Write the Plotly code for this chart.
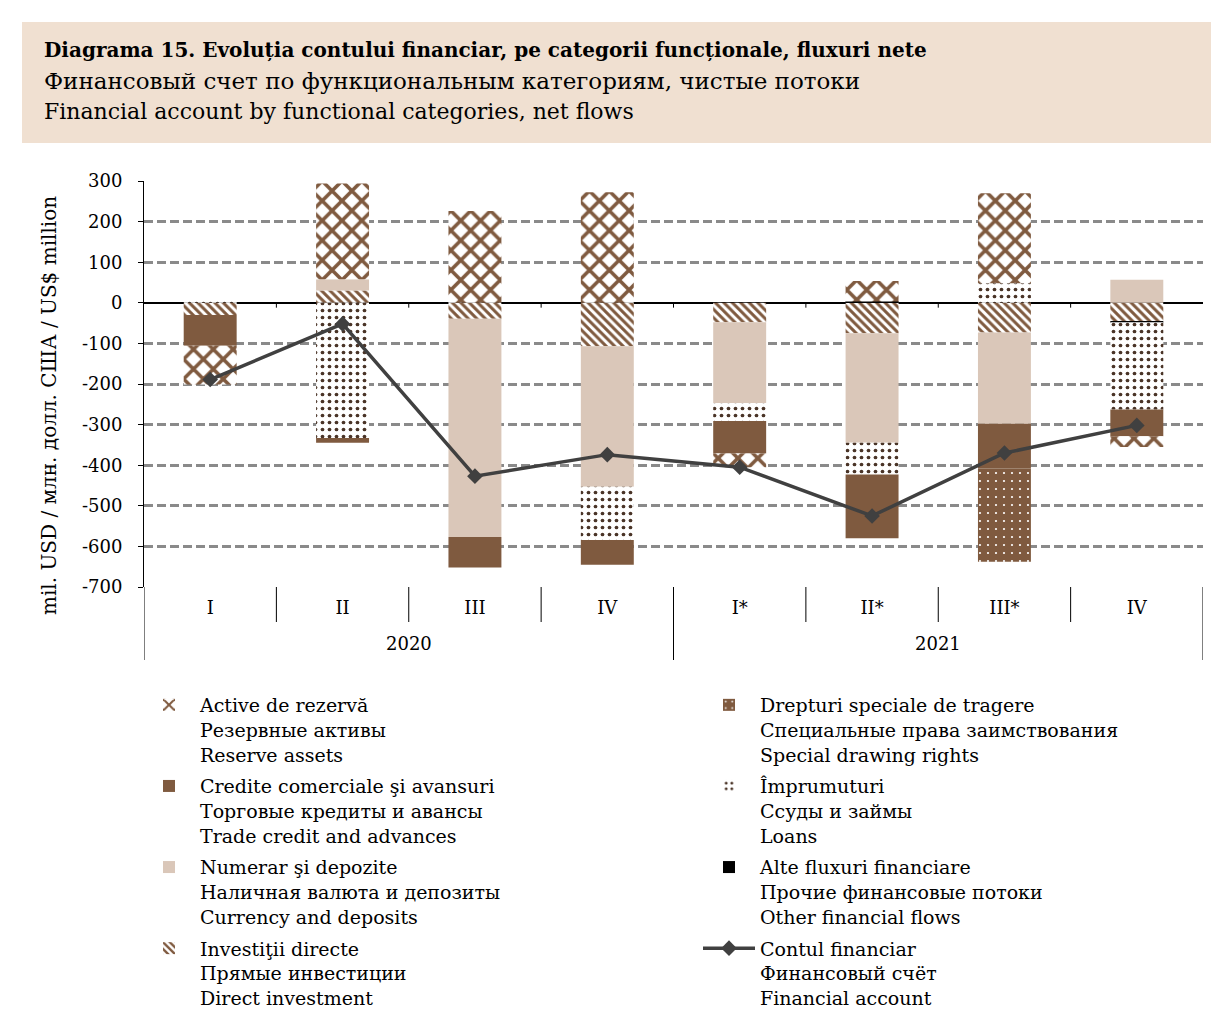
import plotly.graph_objects as go

# --- data (mil. USD) ---
years = ["2020", "2020", "2020", "2020", "2021", "2021", "2021", "2021"]
quarters = ["I", "II", "III", "IV", "I*", "II*", "III*", "IV"]

direct_investment = [-30, 30, -39, -107, -48, -75, -73, -46]
other_flows = [0, 0, 0, 0, 0, 3, 0, -2]
currency_deposits = [0, 28, -538, -346, -199, -270, -225, 57]
loans = [9, -333, 0, -131, -44, -78, 48, -215]
trade_credit = [-76, -12, -75, -61, -80, -157, -110, -66]
sdr = [0, 0, 0, 0, 0, 0, -230, 0]
reserve_assets = [-95, 236, 226, 272, -34, 51, 222, -26]
financial_account = [-189, -52, -427, -374, -405, -525, -370, -302]

y_ticks = [300, 200, 100, 0, -100, -200, -300, -400, -500, -600, -700]

# --- look ---
# the page puts the figure 8px in from the window corner; positions below are
# given in window pixels and converted
OFF = 8
PL, PR, PT, PB = 144, 1203, 181, 587          # plot area in window pixels
W, H = 1219 - OFF, 1026 - OFF
L, T = PL - OFF, PT - OFF
R, B = W - (PR - OFF), H - (PB - OFF)
FONT = "DejaVu Serif"
BROWN = "#7F5A3F"
BEIGE = "#DAC7B9"
DARK = "#4A3427"
LINE = "#404040"


def px_x(px):
    return (px - PL) / (PR - PL)


def px_y(py):
    return (PB - py) / (PB - PT)


x = [f"{yr} {q}" for yr, q in zip(years, quarters)]

fig = go.Figure()

# stacking order follows the Excel series order (first series sits next to zero)
fig.add_trace(go.Bar(
    x=x, y=direct_investment, legend="legend", legendrank=4, legendgroup="di",
    name="Investiţii directe<br>Прямые инвестиции<br>Direct investment",
    marker=dict(color="white", line_width=0,
                pattern=dict(shape="\\", fgcolor=BROWN, bgcolor="white",
                             fgopacity=1, size=6, solidity=0.5))))
fig.add_trace(go.Bar(
    x=x, y=other_flows, legend="legend2", legendrank=3, legendgroup="oth",
    name="Alte fluxuri financiare<br>Прочие финансовые потоки<br>Other financial flows",
    marker=dict(color="black", line_width=0)))
fig.add_trace(go.Bar(
    x=x, y=currency_deposits, legend="legend", legendrank=3, legendgroup="cur",
    name="Numerar şi depozite<br>Наличная валюта и депозиты<br>Currency and deposits",
    marker=dict(color=BEIGE, line_width=0)))
fig.add_trace(go.Bar(
    x=x, y=loans, legend="legend2", legendrank=2, legendgroup="loa",
    name="Împrumuturi<br>Ссуды и займы<br>Loans",
    marker=dict(color="white", line_width=0,
                pattern=dict(shape=".", fgcolor=DARK, bgcolor="white",
                             fgopacity=1, size=7, solidity=0.22))))
fig.add_trace(go.Bar(
    x=x, y=trade_credit, legend="legend", legendrank=2, legendgroup="tc",
    name="Credite comerciale şi avansuri<br>Торговые кредиты и авансы<br>Trade credit and advances",
    marker=dict(color=BROWN, line_width=0)))
fig.add_trace(go.Bar(
    x=x, y=sdr, legend="legend2", legendrank=1, legendgroup="sdr",
    name="Drepturi speciale de tragere<br>Специальные права заимствования<br>Special drawing rights",
    marker=dict(color=BROWN, line_width=0,
                pattern=dict(shape=".", fgcolor="white", bgcolor=BROWN,
                             fgopacity=1, size=8, solidity=0.06))))
fig.add_trace(go.Bar(
    x=x, y=reserve_assets, legend="legend", legendrank=1, legendgroup="res",
    name="Active de rezervă<br>Резервные активы<br>Reserve assets",
    marker=dict(color="white", line_width=0,
                pattern=dict(shape="x", fgcolor=BROWN, bgcolor="white",
                             fgopacity=1, size=14, solidity=0.45))))
fig.add_trace(go.Scatter(
    x=x, y=financial_account, legend="legend2", legendrank=4, legendgroup="fa",
    mode="lines+markers",
    name="Contul financiar<br>Финансовый счёт<br>Financial account",
    line=dict(color=LINE, width=3.5),
    marker=dict(symbol="diamond", size=12, color=LINE)))

# header band
fig.add_shape(type="rect", xref="paper", yref="paper",
              x0=px_x(22), x1=px_x(1219), y0=px_y(143), y1=px_y(22),
              fillcolor="#F0E0D1", line_width=0, layer="below")
header = [
    ("<b>Diagrama 15. Evoluția contului financiar, pe categorii funcționale, fluxuri nete</b>", 50, 20),
    ("Финансовый счет по функциональным категориям, чистые потоки", 81, 23),
    ("Financial account by functional categories, net flows", 112, 22),
]
for text, py, size in header:
    fig.add_annotation(text=text, xref="paper", yref="paper",
                       x=px_x(42), y=px_y(py), xanchor="left", yanchor="middle",
                       showarrow=False, font=dict(family=FONT, size=size, color="black"))

# y-axis title
fig.add_annotation(text="mil. USD / млн. долл. США / US$ million",
                   xref="paper", yref="paper", x=px_x(49), y=px_y(406),
                   xanchor="center", yanchor="middle",
                   textangle=-90, showarrow=False,
                   font=dict(family=FONT, size=20, color="black"))

# category axis furniture: quarter separators, year separators and year labels
n = len(x)
for i in range(n - 1):
    if years[i] != years[i + 1]:
        continue
    fig.add_shape(type="line", xref="x", yref="paper", x0=i + 0.5, x1=i + 0.5,
                  y0=0, y1=px_y(622), line=dict(color="black", width=1))
    fig.add_shape(type="line", xref="x", yref="y", x0=i + 0.5, x1=i + 0.5,
                  y0=0, y1=-12, line=dict(color="black", width=1))
group_edges = [-0.5] + [i + 0.5 for i in range(n - 1) if years[i] != years[i + 1]] + [n - 0.5]
for xe in group_edges:
    fig.add_shape(type="line", xref="x", yref="paper", x0=xe, x1=xe,
                  y0=0, y1=px_y(660), line=dict(color="black", width=1))
    if -0.5 < xe < n - 0.5:
        fig.add_shape(type="line", xref="x", yref="y", x0=xe, x1=xe,
                      y0=0, y1=-12, line=dict(color="black", width=1))
for yr in dict.fromkeys(years):
    idx = [i for i, v in enumerate(years) if v == yr]
    fig.add_annotation(text=yr, xref="x", yref="paper",
                       x=sum(idx) / len(idx), y=px_y(643),
                       xanchor="center", yanchor="middle", showarrow=False,
                       font=dict(family=FONT, size=18, color="black"))

legend_style = dict(orientation="v", yanchor="top", xanchor="left",
                    itemwidth=52, valign="top", traceorder="grouped",
                    tracegroupgap=4,
                    font=dict(family=FONT, size=19, color="black"),
                    bgcolor="rgba(0,0,0,0)")

fig.update_layout(
    width=W, height=H,
    margin=dict(l=L, r=R, t=T, b=B, autoexpand=False),
    paper_bgcolor="white", plot_bgcolor="white",
    barmode="relative", bargap=0.6,
    font=dict(family=FONT, size=18, color="black"),
    showlegend=True,
    legend=dict(x=px_x(138), y=px_y(686), **legend_style),
    legend2=dict(x=px_x(698), y=px_y(686), **legend_style),
    xaxis=dict(type="category", tickvals=x, ticktext=quarters,
               showgrid=False, showline=False, ticks="",
               ticklabelstandoff=8, range=[-0.5, n - 0.5],
               tickfont=dict(family=FONT, size=18, color="black")),
    yaxis=dict(range=[-700, 300], tickvals=y_ticks,
               ticktext=[str(v) for v in y_ticks], showline=True,
               linecolor="black", linewidth=1, ticks="outside", ticklen=5,
               tickcolor="black", showgrid=True, gridcolor="#8A8A8A",
               gridwidth=2.5, griddash="9px,4px", ticklabelstandoff=12,
               zeroline=True, zerolinecolor="black", zerolinewidth=1.5,
               tickfont=dict(family=FONT, size=18, color="black")),
)

fig.write_html("out.html")
